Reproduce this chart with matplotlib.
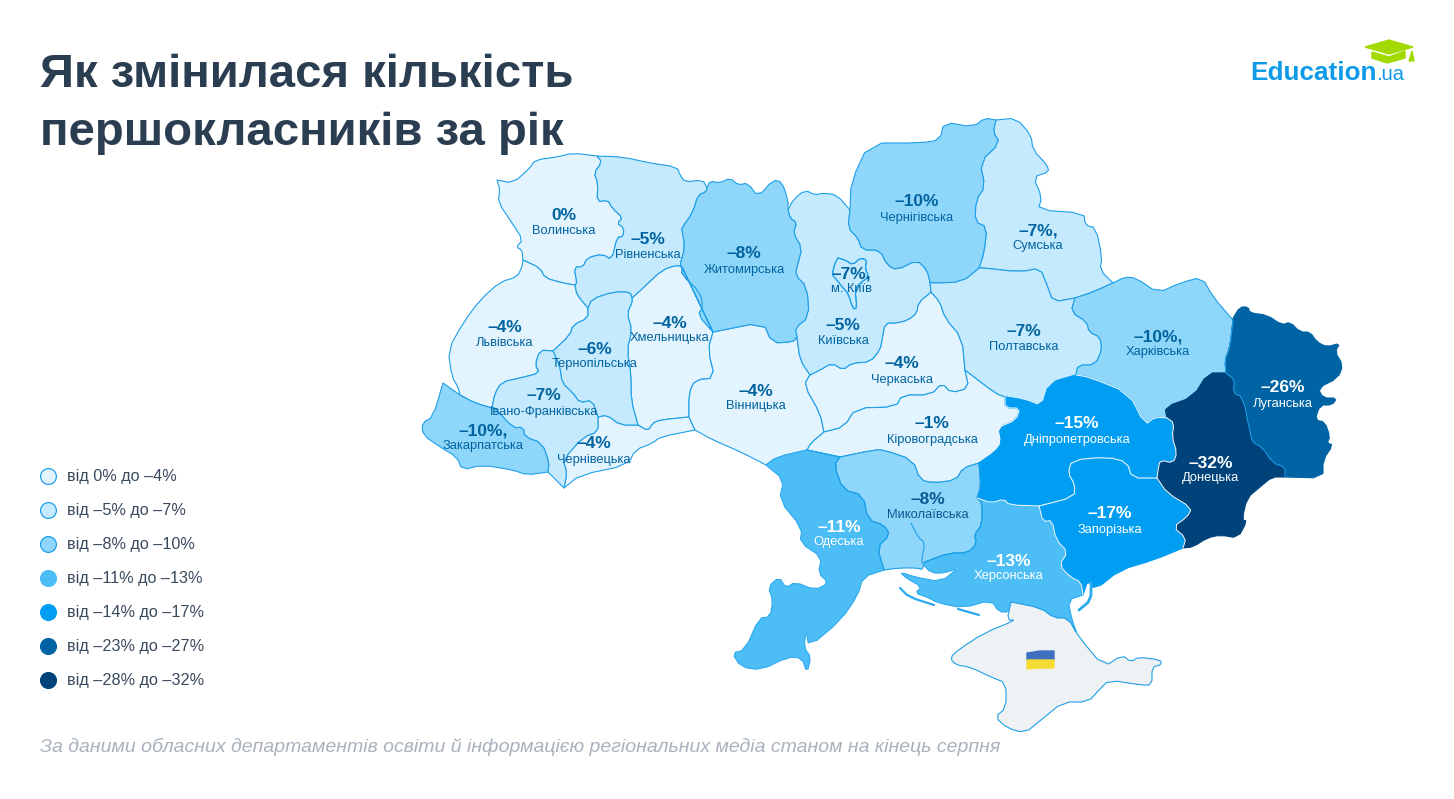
import numpy as np
from matplotlib import pyplot as plt

plt.rcParams['font.family'] = ['Liberation Sans', 'DejaVu Sans']

# Text and values
title_lines = ['Як змінилася кількість', 'першокласників за рік']
source_text = 'За даними обласних департаментів освіти й інформацією регіональних медіа станом на кінець серпня'
legend_labels = ['від 0% до –4%', 'від –5% до –7%', 'від –8% до –10%', 'від –11% до –13%',
                 'від –14% до –17%', 'від –23% до –27%', 'від –28% до –32%']
legend_low = [0, -5, -8, -11, -14, -23, -28]
class_colors = ['#E3F4FE', '#C5EAFD', '#8FD7FA', '#4DBDF6', '#009EF3', '#0063A4', '#00427A']

region_names = ['Волинська', 'Рівненська', 'Житомирська', 'Львівська', 'Тернопільська', 'Хмельницька',
                'Івано-Франківська', 'Закарпатська', 'Чернівецька', 'Вінницька', 'Київська', 'Черкаська',
                'Кіровоградська', 'Чернігівська', 'Сумська', 'Полтавська', 'Харківська', 'Луганська',
                'Донецька', 'Дніпропетровська', 'Запорізька', 'Миколаївська', 'Херсонська', 'Одеська',
                'м. Київ']
region_values = [0, -5, -8, -4, -6, -4, -7, -10, -4, -4, -5, -4, -1, -10, -7, -7, -10, -26, -32, -15, -17,
                 -8, -13, -11, -7]
with_comma = ['Закарпатська', 'Сумська', 'Харківська', 'м. Київ']

# Label centres in picture pixels
label_x = [564, 648, 744, 505, 595, 670, 544, 483, 594, 756, 843, 902, 932, 917, 1038, 1024, 1158, 1283,
           1211, 1077, 1110, 928, 1009, 839, 851]
label_y = [215, 239, 254, 327, 349, 323, 396, 431, 444, 391, 326, 364, 424, 202, 231, 332, 337, 388, 463,
           424, 514, 500, 561, 527, 274]

# Map outlines, traced in picture pixels, one list per shared border
vol_n = [(497, 180), (513, 183), (530, 168), (535, 160), (557, 157), (573, 153), (597, 156)]
vol_riv = [(597, 156), (602, 162), (594, 173), (598, 183), (597, 202), (608, 200), (612, 208), (623, 218),
           (617, 223), (624, 228), (623, 237), (617, 237), (612, 260), (602, 254), (587, 258), (583, 267),
           (574, 267), (577, 283), (575, 285)]
vol_lv = [(575, 285), (563, 283), (545, 278), (540, 268), (523, 260)]
vol_w = [(523, 260), (522, 250), (516, 247), (523, 240), (512, 223), (498, 202), (500, 190), (497, 180)]
riv_n = [(597, 156), (623, 157), (650, 163), (677, 167), (680, 175), (685, 182), (703, 180), (707, 188)]
riv_zhy = [(707, 188), (706, 192), (698, 195), (693, 212), (682, 228), (682, 230), (685, 247), (680, 265),
           (682, 267)]
riv_khm = [(682, 267), (677, 265), (662, 270), (643, 288), (632, 298)]
riv_ter = [(632, 298), (630, 292), (613, 292), (592, 299), (588, 308)]
riv_lv = [(588, 308), (577, 295), (575, 285)]
lv_w = [(523, 260), (522, 267), (517, 277), (500, 282), (480, 300), (463, 323), (448, 350), (452, 377),
        (458, 387), (460, 395)]
zak_n = [(443, 383), (460, 395)]
lv_zak = [(460, 395), (475, 403), (492, 408)]
lv_if = [(492, 408), (495, 393), (502, 382), (520, 378), (540, 373), (535, 365), (540, 350), (553, 351)]
lv_ter = [(553, 351), (570, 335), (573, 325), (588, 318), (588, 308)]
ter_if = [(553, 351), (560, 367), (562, 383), (573, 393), (580, 403), (592, 400), (598, 417)]
ter_che = [(598, 417), (607, 415), (620, 425), (638, 425)]
ter_khm = [(632, 298), (632, 303), (627, 313), (632, 330), (627, 350), (631, 373), (631, 400), (638, 425)]
if_zak = [(492, 408), (495, 408), (513, 428), (523, 427), (525, 437), (542, 443), (549, 462), (548, 472)]
if_tail = [(548, 472), (564, 488)]
if_che = [(564, 488), (567, 473), (563, 460), (583, 437), (598, 432), (598, 417)]
zak_s = [(548, 472), (527, 475), (513, 470), (482, 465), (462, 470), (457, 457), (440, 447), (423, 435),
         (422, 423), (433, 417), (443, 383)]
che_khm = [(638, 425), (648, 431), (653, 423), (660, 420), (689, 417)]
che_vin = [(689, 417), (695, 430)]
che_s = [(695, 430), (660, 437), (653, 443), (635, 450), (628, 465), (580, 475), (564, 488)]
khm_vin = [(689, 417), (689, 393), (695, 380), (715, 378), (708, 350), (713, 332)]
khm_zhy = [(713, 332), (698, 315), (703, 307), (700, 292), (682, 275), (682, 267)]
zhy_n = [(707, 188), (710, 181), (720, 183), (730, 178), (738, 185), (748, 183), (758, 197), (773, 180),
         (782, 182), (788, 200), (788, 210)]
zhy_ky = [(788, 210), (790, 218), (797, 223), (793, 233), (802, 248), (798, 263), (795, 275), (807, 287),
          (809, 317), (795, 328), (797, 337)]
zhy_vin = [(797, 337), (793, 342), (772, 343), (763, 322), (713, 332)]
vin_coast = [(695, 430), (713, 440), (743, 453), (766, 465)]
vin_od = [(766, 465), (777, 457), (807, 450)]
vin_kir = [(807, 450), (811, 443), (824, 432)]
vin_chk = [(824, 432), (820, 413), (804, 385), (810, 375)]
vin_ky = [(810, 375), (800, 360), (797, 337)]
ky_n = [(788, 210), (793, 200), (805, 190), (815, 195), (823, 193), (837, 195), (850, 210)]
ky_chn = [(850, 210), (848, 228), (858, 238), (862, 250), (880, 250), (887, 265), (897, 270), (917, 260),
          (927, 270), (930, 282)]
ky_pol = [(930, 282), (931, 292)]
ky_chk = [(931, 292), (918, 303), (917, 313), (908, 320), (897, 323), (885, 323), (882, 340), (880, 350),
          (870, 362), (852, 363), (843, 370), (832, 363), (820, 370), (810, 375)]
chn_n = [(850, 210), (851, 182), (869, 143), (920, 143), (940, 140), (944, 122), (973, 127), (985, 118),
         (996, 120)]
chn_sum = [(996, 120), (993, 132), (1000, 143), (980, 162), (985, 187), (976, 200), (975, 222), (987, 227),
           (984, 253), (979, 268)]
chn_pol = [(979, 268), (962, 282), (933, 283), (930, 282)]
sum_n = [(996, 120), (1016, 118), (1031, 135), (1033, 150), (1047, 165), (1049, 172), (1033, 177),
         (1042, 197), (1038, 210), (1084, 213), (1085, 225), (1096, 228), (1102, 257), (1100, 270), (1113, 283)]
sum_kh = [(1113, 283), (1093, 292), (1075, 298)]
sum_pol = [(1075, 298), (1053, 302), (1047, 285), (1040, 268), (1020, 272), (984, 268), (979, 268)]
pol_kh = [(1075, 298), (1071, 312), (1087, 322), (1089, 332), (1100, 337), (1102, 350), (1095, 365),
          (1078, 365), (1076, 375)]
pol_dn = [(1076, 375), (1049, 383), (1042, 407), (1024, 400), (1005, 397)]
pol_kir = [(1005, 397), (995, 393), (965, 370)]
pol_chk = [(965, 370), (962, 338), (945, 318), (940, 302), (931, 292)]
chk_kir = [(965, 370), (969, 388), (951, 393), (942, 383), (931, 395), (902, 395), (896, 407), (856, 408),
           (844, 427), (824, 432)]
kir_dn = [(1005, 397), (1005, 408), (1020, 408), (1016, 420), (999, 427), (1002, 443), (995, 452), (979, 463)]
kir_myk = [(979, 463), (963, 468), (956, 480), (934, 483), (920, 480), (913, 460), (884, 450), (874, 450),
           (840, 457)]
kir_od = [(840, 457), (807, 450)]
od_myk = [(840, 457), (834, 465), (843, 490), (863, 495), (868, 520), (884, 525), (890, 535), (877, 547),
          (884, 570)]
od_coast = [(884, 570), (863, 577), (858, 595), (841, 620), (809, 647), (806, 630), (804, 648), (811, 657),
            (807, 673), (802, 658), (788, 657), (761, 670), (741, 667), (732, 653), (745, 650), (759, 618),
            (770, 617), (773, 600), (768, 587), (779, 577), (786, 588), (795, 582), (815, 590), (829, 583),
            (818, 573), (822, 557), (800, 543), (802, 528), (779, 500), (784, 480), (766, 465)]
myk_dn = [(979, 463), (981, 487), (977, 498)]
myk_kh = [(977, 498), (982, 502), (982, 525), (974, 535), (977, 543), (968, 553), (949, 553), (925, 562)]
myk_s = [(925, 562), (922, 570), (918, 568), (899, 568), (884, 570)]
dn_kh = [(977, 498), (991, 503), (1004, 499), (1009, 505), (1039, 506)]
kh_zap = [(1039, 506), (1043, 522), (1052, 520), (1056, 540), (1068, 552), (1059, 565), (1070, 577),
          (1081, 582), (1083, 595)]
kh_s = [(1083, 595), (1068, 600), (1072, 620), (1078, 636), (1068, 618), (1054, 618), (1041, 608), (1011, 602),
        (1009, 612), (999, 612), (991, 600), (963, 608), (938, 603), (927, 597), (915, 593), (922, 587),
        (906, 578), (900, 572), (915, 577), (941, 582), (958, 568), (945, 573), (931, 573), (922, 563), (925, 562)]
dn_kharkiv = [(1076, 375), (1089, 377), (1129, 393), (1145, 425), (1155, 417), (1167, 418)]
dn_don = [(1167, 418), (1174, 423), (1172, 437), (1177, 453), (1173, 463), (1160, 460), (1158, 470), (1157, 478)]
dn_zap = [(1157, 478), (1132, 478), (1127, 462), (1107, 457), (1072, 460), (1068, 473), (1075, 485),
          (1074, 497), (1039, 506)]
zap_don = [(1157, 478), (1167, 493), (1192, 508), (1187, 517), (1173, 527), (1186, 538), (1183, 548)]
zap_s = [(1183, 548), (1154, 560), (1120, 570), (1095, 590), (1088, 580), (1083, 595)]
kharkiv_n = [(1113, 283), (1125, 277), (1136, 278), (1158, 293), (1180, 283), (1202, 277), (1213, 297), (1233, 320)]
kharkiv_lu = [(1233, 320), (1230, 347), (1225, 360), (1226, 373)]
kharkiv_don = [(1226, 373), (1208, 373), (1193, 397), (1165, 407), (1167, 418)]
don_lu = [(1226, 373), (1235, 380), (1233, 393), (1243, 397), (1250, 432), (1253, 443), (1262, 447),
          (1273, 463), (1285, 467), (1285, 477)]
don_s = [(1285, 477), (1272, 477), (1260, 487), (1247, 498), (1242, 520), (1247, 521), (1238, 538),
         (1220, 535), (1207, 538), (1193, 547), (1183, 548)]
lu_n = [(1233, 320), (1233, 318), (1240, 307), (1248, 307), (1250, 313), (1267, 315), (1282, 325), (1290, 322),
        (1300, 332), (1310, 332), (1317, 342), (1327, 347), (1340, 343), (1335, 352), (1343, 365), (1338, 378),
        (1318, 388), (1323, 398), (1337, 398), (1332, 405), (1320, 405), (1315, 420), (1325, 422), (1330, 437),
        (1327, 443), (1333, 445), (1323, 460), (1323, 478), (1285, 477)]
kyiv_city = [(838, 258), (845, 260), (853, 265), (860, 258), (867, 260), (865, 268), (869, 277), (860, 283),
             (855, 290), (857, 308), (853, 309), (848, 293), (843, 288), (837, 280), (832, 275), (835, 263), (838, 258)]
crimea = [(1011, 602), (1041, 608), (1054, 618), (1068, 618), (1078, 636), (1104, 667), (1122, 655), (1131, 662),
          (1138, 657), (1161, 660), (1161, 665), (1152, 667), (1152, 685), (1141, 685), (1109, 680), (1099, 690),
          (1088, 702), (1063, 702), (1041, 720), (1025, 733), (1007, 728), (995, 717), (1006, 708), (1006, 683),
          (991, 677), (970, 667), (956, 665), (950, 658), (958, 650), (984, 633), (1016, 620), (1007, 620), (1011, 602)]
bug_inlet = [(911, 523), (918, 537), (925, 543), (922, 557), (922, 563)]
tendra_spit = [(900, 588), (909, 597), (934, 605)]
small_spit = [(958, 609), (979, 615)]
arabat_spit = [(1091, 582), (1091, 600), (1079, 610)]


def rev(border):
    return border[::-1]


# Round the corners of a traced border, the end points stay where they are
def smooth(border, passes=1):
    pts = np.array(border, dtype=float)
    for _ in range(passes):
        if len(pts) < 3:
            break
        q = 0.75 * pts[:-1] + 0.25 * pts[1:]
        r = 0.25 * pts[:-1] + 0.75 * pts[1:]
        mid = np.empty((2 * len(q), 2))
        mid[0::2] = q
        mid[1::2] = r
        pts = np.vstack([pts[:1], mid, pts[-1:]])
    return pts


def ring(*borders):
    return np.vstack([smooth(b) for b in borders])


region_rings = {
    'Волинська': ring(vol_n, vol_riv, vol_lv, vol_w),
    'Рівненська': ring(riv_n, riv_zhy, riv_khm, riv_ter, riv_lv, rev(vol_riv)),
    'Житомирська': ring(zhy_n, zhy_ky, zhy_vin, rev(khm_zhy), rev(riv_zhy)),
    'Львівська': ring(vol_lv, lv_w, lv_zak, lv_if, lv_ter, riv_lv),
    'Тернопільська': ring(rev(lv_ter), ter_if, ter_che, rev(ter_khm), riv_ter),
    'Хмельницька': ring(ter_khm, che_khm, khm_vin, khm_zhy, riv_khm),
    'Івано-Франківська': ring(rev(lv_if), if_zak, if_tail, if_che, rev(ter_if)),
    'Закарпатська': ring(zak_n, lv_zak, if_zak, zak_s),
    'Чернівецька': ring(ter_che, che_khm, che_vin, che_s, if_che),
    'Вінницька': ring(che_vin, vin_coast, vin_od, vin_kir, vin_chk, vin_ky, zhy_vin, rev(khm_vin)),
    'Київська': ring(ky_n, ky_chn, ky_pol, ky_chk, vin_ky, rev(zhy_ky)),
    'Черкаська': ring(rev(pol_chk), chk_kir, vin_chk, rev(ky_chk)),
    'Кіровоградська': ring(rev(chk_kir), rev(pol_kir), kir_dn, kir_myk, kir_od, vin_kir),
    'Чернігівська': ring(chn_n, chn_sum, chn_pol, rev(ky_chn)),
    'Сумська': ring(sum_n, sum_kh, sum_pol, rev(chn_sum)),
    'Полтавська': ring(rev(sum_pol), pol_kh, pol_dn, pol_kir, pol_chk, rev(ky_pol), rev(chn_pol)),
    'Харківська': ring(kharkiv_n, kharkiv_lu, kharkiv_don, rev(dn_kharkiv), rev(pol_kh), rev(sum_kh)),
    'Луганська': ring(lu_n, rev(don_lu), rev(kharkiv_lu)),
    'Донецька': ring(rev(kharkiv_don), don_lu, don_s, rev(zap_don), rev(dn_don)),
    'Дніпропетровська': ring(rev(pol_dn), dn_kharkiv, dn_don, dn_zap, rev(dn_kh), rev(myk_dn), rev(kir_dn)),
    'Запорізька': ring(rev(dn_zap), zap_don, zap_s, rev(kh_zap)),
    'Миколаївська': ring(rev(kir_myk), myk_dn, myk_kh, myk_s, rev(od_myk)),
    'Херсонська': ring(dn_kh, kh_zap, kh_s, rev(myk_kh)),
    'Одеська': ring(rev(kir_od), od_myk, od_coast, vin_od),
    'м. Київ': ring(kyiv_city),
}


def value_class(value):
    return max(i for i, low in enumerate(legend_low) if value <= low)


def draw_border(border, color, lw=0.8):
    pts = smooth(border)
    ax.plot(pts[:, 0], pts[:, 1], color=color, lw=lw, solid_capstyle='round')


fig = plt.figure(figsize=(14.54, 7.99), dpi=100)
ax = fig.add_axes([0, 0, 1, 1])
ax.set_xlim(0, 1454)
ax.set_ylim(799, 0)
ax.axis('off')

outline = '#1E9FE8'
spit_color = '#2BAAF0'
title_color = '#2B3D50'

# Regions, lightest first
order = np.argsort([value_class(v) for v in region_values], kind='stable')
for i in order:
    name = region_names[i]
    cls = value_class(region_values[i])
    pts = region_rings[name]
    edge = outline if cls <= 2 else class_colors[cls]
    if cls == 3:
        edge = spit_color
    ax.fill(pts[:, 0], pts[:, 1], facecolor=class_colors[cls], edgecolor=edge, linewidth=0.8, joinstyle='round')

# the city sits on top of its oblast
draw_border(kyiv_city, outline)
draw_border(bug_inlet, outline)
draw_border(tendra_spit, spit_color, 1.6)
draw_border(small_spit, spit_color, 1.6)
draw_border(arabat_spit, spit_color, 2.0)

for border in [myk_kh, myk_dn, kir_od, od_myk]:
    draw_border(border, outline)
for border in [dn_kh, kh_zap, dn_zap, dn_don, zap_don, dn_kharkiv, kir_dn[:5]]:
    draw_border(border, '#EAF6FE')
for border in [don_lu, kharkiv_lu]:
    draw_border(border, outline)

crimea_pts = smooth(crimea)
ax.fill(crimea_pts[:, 0], crimea_pts[:, 1], facecolor='#EFF2F5', edgecolor=outline, linewidth=0.8)

# Flag over Crimea
ax.fill([1027, 1040, 1054, 1054, 1027], [653, 651, 651, 660, 660], color='#3F6FC0')
ax.fill([1027, 1054, 1054, 1040, 1027], [660, 660, 668, 668, 669], color='#F5DC35')

# Region labels
for name, value, x, y in zip(region_names, region_values, label_x, label_y):
    cls = value_class(value)
    color = '#FFFFFF' if cls >= 3 else '#00639F'
    if name == 'Миколаївська':
        color = '#0A5A92'
    text = '0%' if value == 0 else '–%d%%' % abs(value)
    if name in with_comma:
        text += ','
    ax.text(x, y, text, ha='center', va='center', fontsize=12.5, fontweight='bold', color=color)
    ax.text(x, y + 15.5, name, ha='center', va='center', fontsize=9.3, color=color)

# Title and source
ax.text(40, 87, title_lines[0], fontsize=34.1, fontweight='bold', color=title_color, va='baseline')
ax.text(40, 145, title_lines[1], fontsize=34.1, fontweight='bold', color=title_color, va='baseline')
ax.text(40, 752, source_text, fontsize=14.0, style='italic', color='#A9B2BD', va='baseline')

# Legend
legend_y = [476, 510, 544, 578, 612, 646, 680]
for i, label in enumerate(legend_labels):
    edge = outline if i <= 2 else class_colors[i]
    ax.scatter([48], [legend_y[i]], s=130, facecolor=class_colors[i], edgecolor=edge, linewidth=0.9)
    ax.text(67, legend_y[i] + 1, label, fontsize=11.7, color='#3A4A5E', va='center')

# Logo
ax.text(1250, 80, 'Education', fontsize=18.8, fontweight='bold', color='#0E9AE8', va='baseline')
ax.text(1376, 80, '.ua', fontsize=14.5, color='#0E9AE8', va='baseline')
ax.fill([1365, 1389, 1413, 1389], [47, 40, 47, 54], color='#A2D900')
ax.fill([1372, 1389, 1405, 1405, 1387, 1372], [52, 57, 51, 58, 63, 58], color='#A2D900')
ax.fill([1412, 1409, 1414], [51, 61, 61], color='#A2D900')

fig.savefig('out.png', dpi=100)
